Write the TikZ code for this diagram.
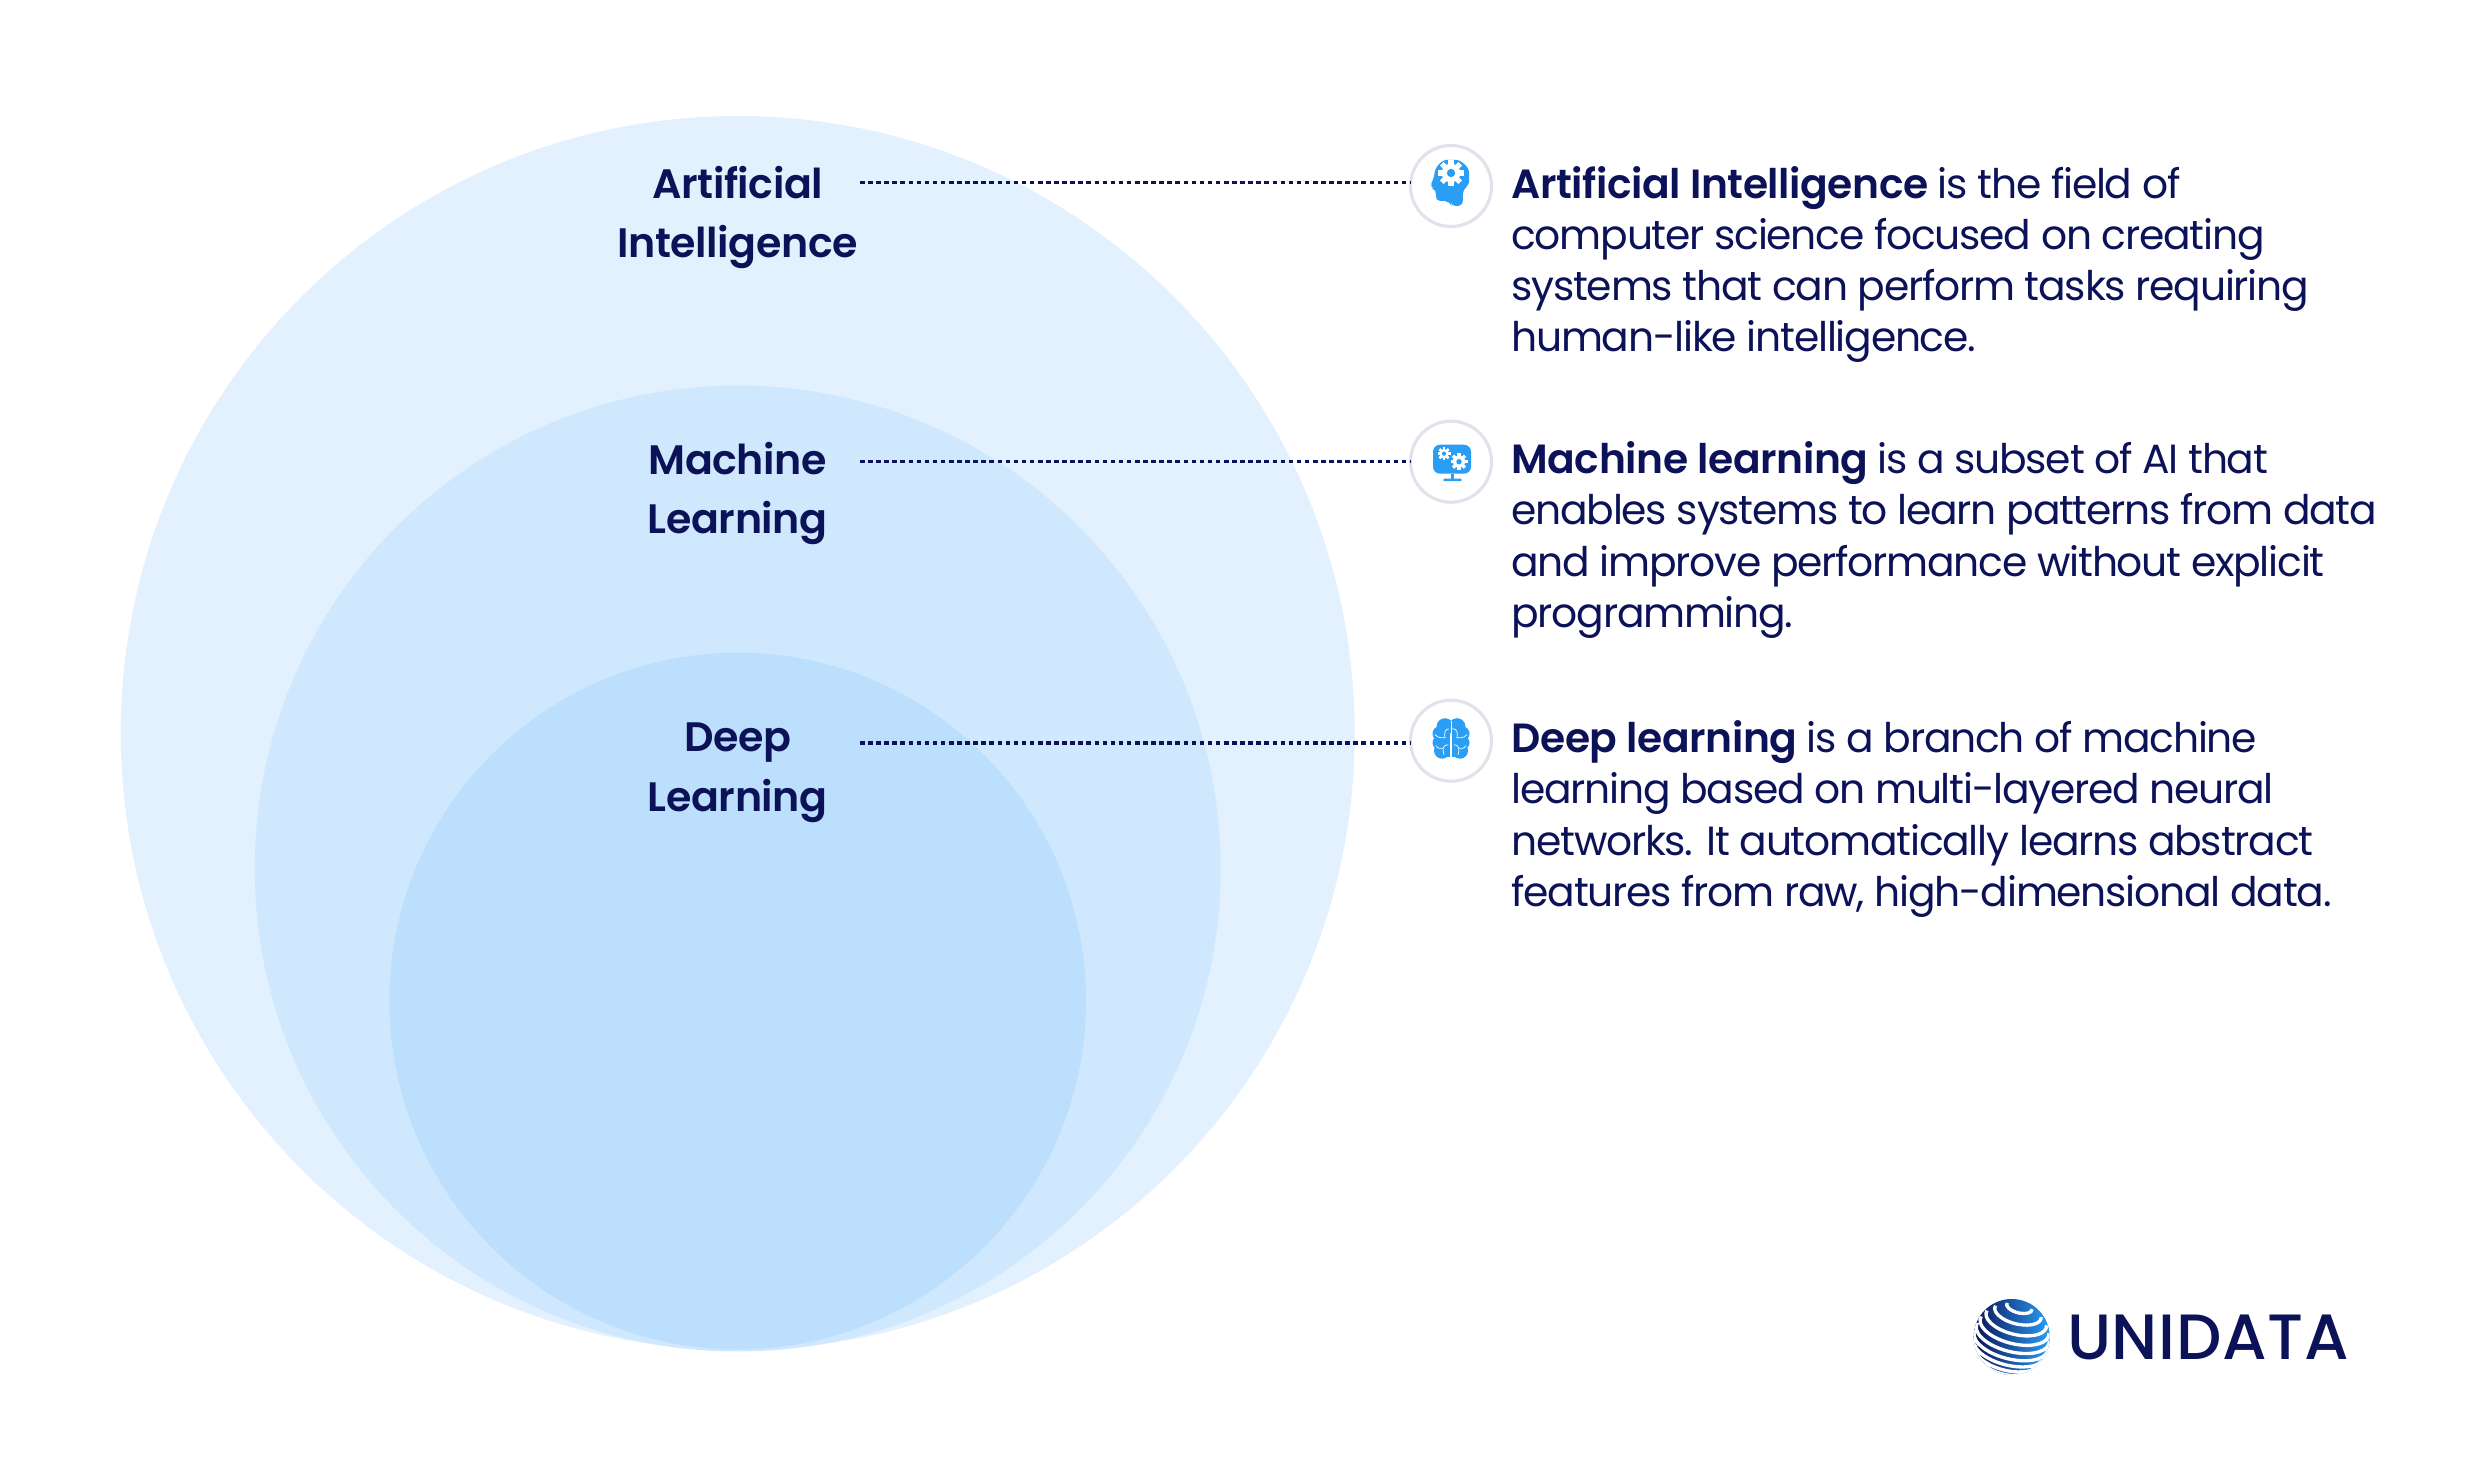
\documentclass[tikz,border=0pt]{standalone}
\usepackage{fontspec}
\usepackage{tikz}
\usepackage{xcolor}
\setmainfont{Poppins}[BoldFont={Poppins SemiBold},LetterSpace=-3,BoldFeatures={LetterSpace=-1}]
\newfontfamily\logofont{Poppins Medium}[LetterSpace=1]
\usetikzlibrary{positioning}
\definecolor{navy}{HTML}{0B1257}
\definecolor{skyA}{HTML}{E3F1FE}
\definecolor{skyB}{HTML}{CFE8FE}
\definecolor{skyC}{HTML}{BBDFFC}
\definecolor{iconblue}{HTML}{2A9DF4}
\definecolor{ringgrey}{HTML}{E1E3EC}

\begin{document}
\begin{tikzpicture}[
    x=0.01cm, y=-0.01cm,
    venn/.style={circle, minimum size=#1*0.02cm, inner sep=0pt},
    ringnode/.style={circle, draw=ringgrey, fill=white, line width=0.9pt, minimum size=0.81cm, inner sep=0pt, outer sep=0pt},
    vennlabel/.style={align=center, text=navy, inner sep=0pt, font=\fontsize{11.7}{17}\selectfont\bfseries},
    bodytext/.style={align=left, text=navy, inner sep=0pt, font=\fontsize{11.6}{14.55}\selectfont},
    leader/.style={draw=navy, line width=0.9pt, dash pattern=on 1.3pt off 1pt},
    gearwheel/.pic={
        \fill[white] (0,0) circle (0.72);
        \foreach \a in {0,45,...,315}
            \fill[white, rotate=\a] (-0.2,0.6) rectangle (0.2,1);
        \fill[iconblue] (0,0) circle (0.32);
    }
]
\useasboundingbox (0,0) rectangle (2469,1458);

% Nested circles
\node [venn=616.5, fill=skyA] (circleAI) at (737.7,733) {};
\node [venn=482.6, fill=skyB] (circleML) at (737.7,868.5) {};
\node [venn=348, fill=skyC] (circleDL) at (737.7,1001) {};

% Labels on the circles
\node [vennlabel] (labelAI) at (737.7,217.5) {Artificial\\Intelligence};
\node [vennlabel] (labelML) at (737.7,493.5) {Machine\\Learning};
\node [vennlabel] (labelDL) at (737.7,772.5) {Deep\\Learning};

% Icon rings
\node [ringnode] (iconAI) at (1451,186) {};
\node [ringnode] (iconML) at (1451,461.7) {};
\node [ringnode] (iconDL) at (1451,740.7) {};

% Leader lines
\coordinate (leadAI) at (860,182.7);
\coordinate (leadML) at (860,461.7);
\coordinate (leadDL) at (860,743);
\draw [leader] (leadAI) -- (leadAI -| iconAI.west);
\draw [leader] (leadML) -- (leadML -| iconML.west);
\draw [leader] (leadDL) -- (leadDL -| iconDL.west);

% Head icon
\begin{scope}[shift={(iconAI.center)}]
\fill[iconblue, rounded corners=1.5pt] (-16,15) -- (-14,4) -- (-22,1) -- (-17,-7)
    .. controls (-16,-20) and (-8,-26) .. (0,-26)
    .. controls (11,-26) and (18,-18) .. (18,-9)
    .. controls (18,-2) and (13,4) .. (11,9) -- (13,19) -- (1,21) -- (-1,15) -- cycle;
\pic[scale=13] at (0,-13) {gearwheel};
\end{scope}

% Monitor icon
\begin{scope}[shift={(iconML.center)}]
\fill[iconblue, rounded corners=2pt] (-18,-17) rectangle (20,12);
\fill[iconblue] (0,12) rectangle (3,18);
\fill[iconblue, rounded corners=0.4pt] (-8,17) rectangle (11,19.5);
\pic[scale=6.5] at (-7,-8) {gearwheel};
\pic[scale=8.5] at (8,0) {gearwheel};
\end{scope}

% Brain icon
\begin{scope}[shift={(iconDL.center)}]
\foreach \s in {-1,1} {
    \begin{scope}[xscale=\s]
    \fill[iconblue] (1,-19) rectangle (10,16);
    \fill[iconblue] (6,-14) circle (8.5);
    \fill[iconblue] (11,-7) circle (7.5);
    \fill[iconblue] (11.5,2) circle (7);
    \fill[iconblue] (9,10) circle (8);
    \draw[white, line width=0.2pt, line cap=round] (1.5,-12) .. controls (6,-12) and (7,-8) .. (6,-3);
    \draw[white, line width=0.2pt, line cap=round] (16,-6) .. controls (12,-2) and (9,-3) .. (6,-3);
    \draw[white, line width=0.2pt, line cap=round] (3,4) .. controls (8,4) and (9,9) .. (7,14);
    \draw[white, line width=0.2pt, line cap=round] (15,5) .. controls (13,8) and (11,8) .. (8.5,7.5);
    \end{scope}
}
\fill[white] (-0.4,-20) rectangle (0.4,18);
\end{scope}

% Descriptions
\node [bodytext, right=0.31cm of iconAI.north east, anchor=north west, yshift=-0.08cm] (textAI)
    {\textbf{Artificial Intelligence} is the field of\\computer science focused on creating\\systems that can perform tasks requiring\\human-like intelligence.};
\node [bodytext, right=0.31cm of iconML.north east, anchor=north west, yshift=-0.08cm] (textML)
    {\textbf{Machine learning} is a subset of AI that\\enables systems to learn patterns from data\\and improve performance without explicit\\programming.};
\node [bodytext, right=0.31cm of iconDL.north east, anchor=north west, yshift=-0.08cm] (textDL)
    {\textbf{Deep learning} is a branch of machine\\learning based on multi-layered neural\\networks. It automatically learns abstract\\features from raw, high-dimensional data.};

% Logo
\node [circle, minimum size=0.76cm, inner sep=0pt, left color=navy, right color=iconblue] (globe) at (2011.7,1337) {};
\begin{scope}[shift={(globe.center)}, rotate=-14]
\clip (0,0) circle (38);
\foreach \h/\rx in {-0.88/18,-0.68/28,-0.47/33.5,-0.26/36.7,-0.05/38,0.16/37.5,0.37/35.3,0.58/31,0.78/23.8,0.94/13} {
    \draw[white, line width=0.95pt] ({\rx},{-\h*34}) arc[start angle=-8, end angle=188, x radius=\rx, y radius=\rx*0.47];
}
\end{scope}
\node [right=0.16cm of globe.east, anchor=west, text=navy, inner sep=0pt, font=\logofont\fontsize{18.2}{18}\selectfont] (logotext) {UNIDATA};

\end{tikzpicture}
\end{document}
